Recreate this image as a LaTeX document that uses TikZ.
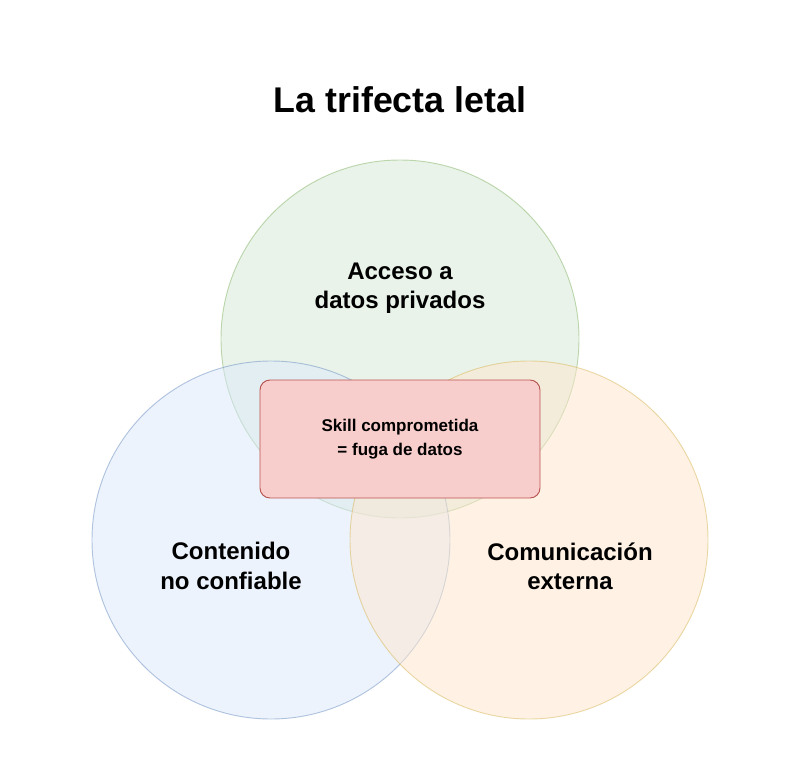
\documentclass[tikz,border=0pt]{standalone}
\usepackage{fontspec}
\setmainfont{Liberation Sans}
\usetikzlibrary{positioning}
\definecolor{gfill}{HTML}{D5E8D4}\definecolor{gline}{HTML}{82B366}
\definecolor{bfill}{HTML}{DAE8FC}\definecolor{bline}{HTML}{6C8EBF}
\definecolor{ofill}{HTML}{FFE6CC}\definecolor{oline}{HTML}{D6B656}
\definecolor{rfill}{HTML}{F8CECC}\definecolor{rline}{HTML}{B85450}
\tikzset{set/.style={circle, minimum size=10.74cm, inner sep=0pt, line width=0.8pt, fill opacity=0.5, draw opacity=0.5},
lbl/.style={font=\bfseries\fontsize{20.5}{25}\selectfont, align=center}}
\begin{document}
\begin{tikzpicture}[x=0.03cm,y=-0.03cm]
\useasboundingbox (0,0) rectangle (800,782);
\node[set, fill=gfill, draw=gline] (priv) at (400,339) {};
\node[set, fill=bfill, draw=bline] (cont) at (271,540) {};
\node[set, fill=ofill, draw=oline] (com) at (529,540) {};
\node[font=\bfseries\fontsize{30.5}{36}\selectfont] (title) at (400,100) {La trifecta letal};
\node[lbl] (tpriv) at (400,288) {Acceso a\\datos privados};
\node[lbl] (tcont) at (231,566) {Contenido\\no confiable};
\node[lbl] (tcom) at (570,566) {Comunicación\\externa};
\node[draw=rline, fill=rfill, line width=0.8pt, rounded corners=0.3cm, minimum width=8.4cm, minimum height=3.54cm,
  font=\bfseries\fontsize{14.5}{20}\selectfont, align=center] (leak) at (400,439) {Skill comprometida\\= fuga de datos};
\end{tikzpicture}
\end{document}
